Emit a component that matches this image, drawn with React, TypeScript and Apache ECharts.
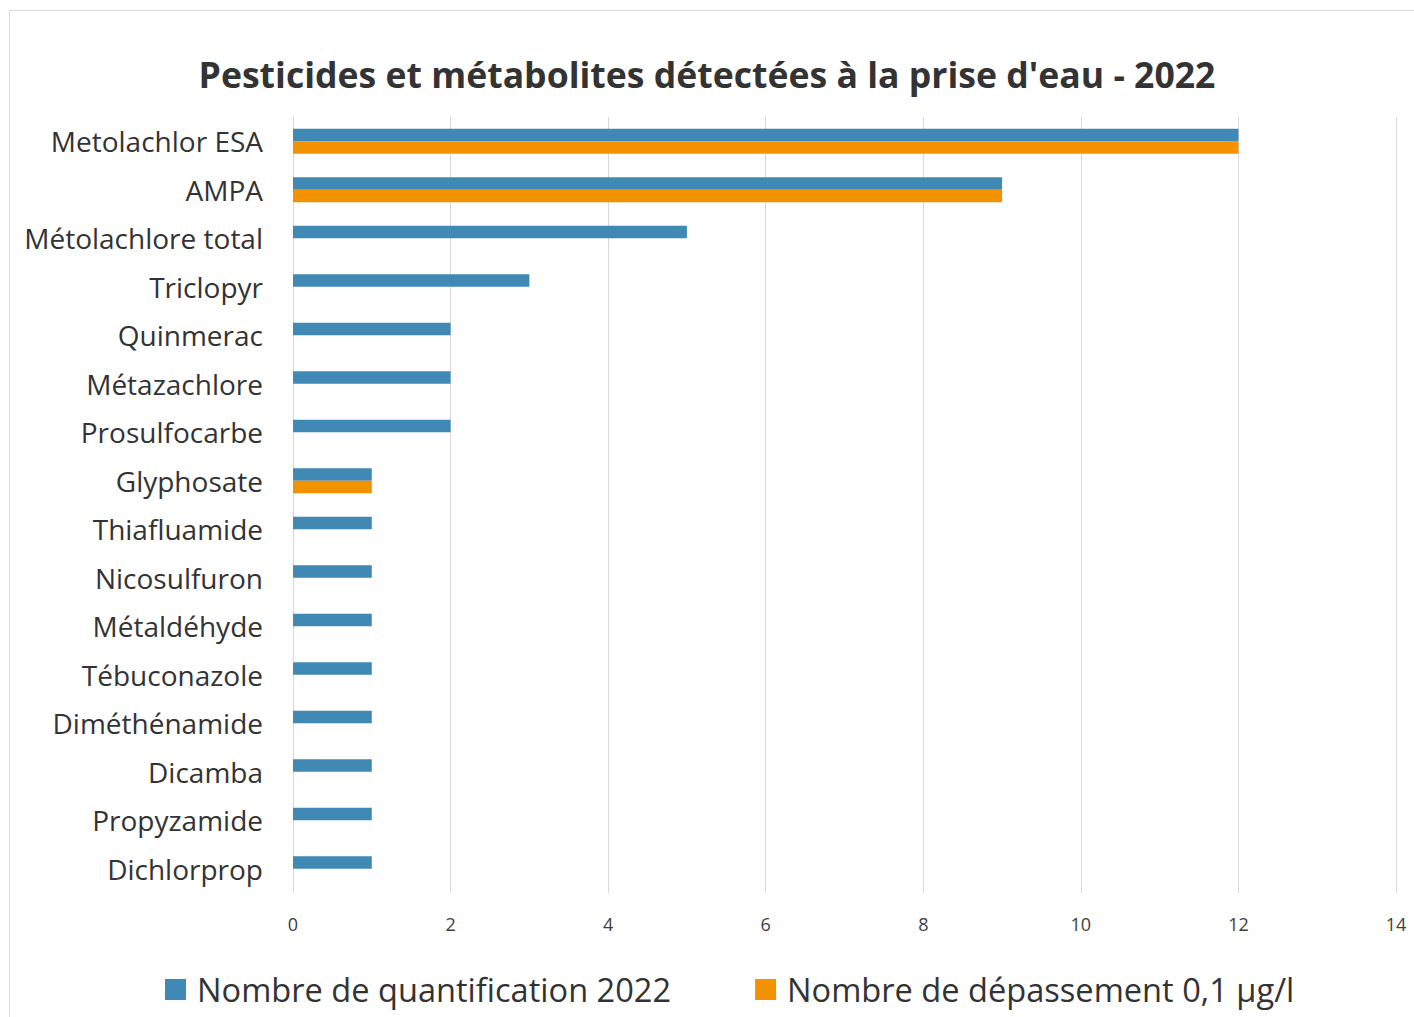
import React, { useEffect, useRef } from "react";
import * as echarts from "echarts";

const categories = [
  "Metolachlor ESA",
  "AMPA",
  "Métolachlore total",
  "Triclopyr",
  "Quinmerac",
  "Métazachlore",
  "Prosulfocarbe",
  "Glyphosate",
  "Thiafluamide",
  "Nicosulfuron",
  "Métaldéhyde",
  "Tébuconazole",
  "Diméthénamide",
  "Dicamba",
  "Propyzamide",
  "Dichlorprop",
];
const quantification = [12, 9, 5, 3, 2, 2, 2, 1, 1, 1, 1, 1, 1, 1, 1, 1];
const depassement = [12, 9, null, null, null, null, null, 1, null, null, null, null, null, null, null, null];
const seriesNames = ["Nombre de quantification 2022", "Nombre de dépassement 0,1 µg/l"];
const titleText = "Pesticides et métabolites détectées à la prise d'eau - 2022";

export default function App() {
  const ref = useRef<HTMLDivElement>(null);
  useEffect(() => {
    document.body.style.margin = "0";
    const chart = echarts.init(ref.current!, null, { renderer: "svg" });
    const font = "'Open Sans', sans-serif";
    chart.setOption({
      animation: false,
      backgroundColor: "#ffffff",
      title: {
        text: titleText,
        left: "center",
        top: 51,
        textStyle: { fontFamily: font, fontWeight: "bold", fontSize: 35.6, color: "#333333" },
      },
      graphic: [
        {
          type: "rect",
          shape: { x: 9.5, y: 10.5, width: 1440, height: 1040 },
          style: { fill: "none", stroke: "#d9d9d9", lineWidth: 1 },
          silent: true,
        },
      ],
      legend: {
        bottom: 6,
        left: 160,
        itemWidth: 21,
        itemHeight: 21,
        itemGap: 84,
        icon: "rect",
        textStyle: { fontFamily: font, fontSize: 32.6, color: "#333333", padding: [0, 0, 0, 6] },
        data: seriesNames,
      },
      grid: { left: 293, right: 18, top: 117, bottom: 124, containLabel: false },
      xAxis: {
        type: "value",
        min: 0,
        max: 14,
        interval: 2,
        axisLine: { show: false },
        axisTick: { show: false },
        splitLine: { show: true, lineStyle: { color: "#d9d9d9", width: 1 } },
        axisLabel: { fontFamily: font, fontSize: 18, color: "#404040", margin: 22 },
      },
      yAxis: {
        type: "category",
        inverse: true,
        data: categories,
        axisLine: { show: false },
        axisTick: { show: false },
        axisLabel: { fontFamily: font, fontSize: 28, color: "#333333", margin: 30 },
      },
      series: [
        {
          name: seriesNames[0],
          type: "bar",
          data: quantification,
          barWidth: 12.5,
          barGap: "0%",
          itemStyle: { color: "#4089b4" },
        },
        {
          name: seriesNames[1],
          type: "bar",
          data: depassement,
          barWidth: 12.5,
          barGap: "0%",
          itemStyle: { color: "#f39200" },
        },
      ],
    });
    return () => chart.dispose();
  }, []);
  return <div ref={ref} style={{ width: 1414, height: 1017 }} />;
}
